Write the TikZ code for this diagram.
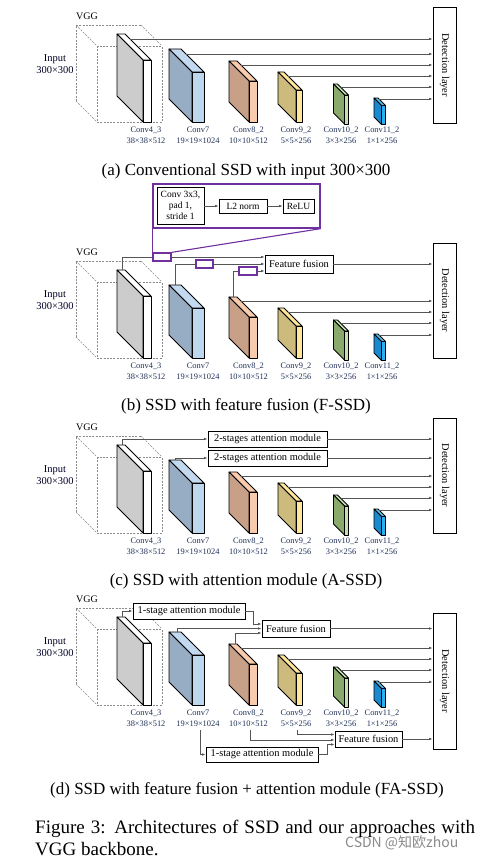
\documentclass[tikz,border=0pt]{standalone}
\usepackage{fontspec}
\setmainfont{Liberation Serif}
\newfontfamily\cjkfont{Noto Sans CJK SC}
\usetikzlibrary{arrows.meta}
\definecolor{lblblue}{HTML}{1F3058}
\definecolor{lgray}{HTML}{555555}
\definecolor{dgray}{HTML}{8A8A8A}
\definecolor{ppl}{HTML}{7030A0}
\definecolor{sideA}{HTML}{CCCCCC}
\definecolor{sideB}{HTML}{97ADC4}
\definecolor{frontB}{HTML}{BDD7EE}
\definecolor{topB}{HTML}{C3D9EF}
\definecolor{sideC}{HTML}{C8A088}
\definecolor{frontC}{HTML}{F8CBAD}
\definecolor{sideD}{HTML}{CCBB7C}
\definecolor{frontD}{HTML}{FFE699}
\definecolor{sideE}{HTML}{8AAA6C}
\definecolor{frontE}{HTML}{C5E0B4}
\definecolor{sideF}{HTML}{1A8AD0}
\definecolor{frontF}{HTML}{27B0F0}
\definecolor{topF}{HTML}{5CC4F2}
\tikzset{
  slabline/.style={draw=black, line width=0.8pt, line join=round},
  conn/.style={draw=lgray, line width=0.65pt},
  arr/.style={conn, -{Latex[length=3.6pt,width=2.6pt]}},
  dashcube/.style={draw=dgray, line width=0.6pt, dash pattern=on 2pt off 1.3pt},
  lbl/.style={inner sep=0pt, text=lblblue, font=\fontsize{8.4}{9}\selectfont},
  boxed/.style={draw=black, line width=0.8pt, fill=white, inner sep=0pt, font=\fontsize{10.4}{12}\selectfont},
  smallbox/.style={draw=black, line width=0.7pt, fill=white, inner sep=0pt, font=\fontsize{9.5}{11}\selectfont},
  pbox/.style={draw=ppl, line width=1.3pt, fill=white, inner sep=0pt},
  captext/.style={inner sep=0pt, anchor=base, font=\fontsize{17}{20}\selectfont},
}
% #1 x0, #2 y0, #3 depth, #4 width, #5 height, #6 side, #7 front, #8 top
\newcommand{\slab}[8]{%
  \filldraw[slabline, fill=#8] (#1,#2) -- ++(#4,0) -- ++(#3,#3) -- ++(-#4,0) -- cycle;
  \filldraw[slabline, fill=#6] (#1,#2) -- ++(#3,#3) -- ++(0,#5) -- ++(-#3,-#3) -- cycle;
  \filldraw[slabline, fill=#7] ({#1+#3},{#2+#3}) rectangle ++(#4,#5);
}
% #1 vertical offset, #2 panel letter
\newcommand{\backbone}[2]{%
  \begin{scope}[yshift=-#1pt]
    \node[inner sep=0pt, font=\fontsize{10}{12}\selectfont] (vgg#2) at (87,16.5) {VGG};
    \node[inner sep=0pt, text=black!85!blue, font=\fontsize{10.5}{12}\selectfont] (inp#2) at (55,59.5) {Input};
    \node[inner sep=0pt, text=black!85!blue, font=\fontsize{10.5}{12}\selectfont] (res#2) at (55,70.5) {300×300};
    \draw[dashcube] (76,101) -- (76,25) -- (141,25);
    \draw[dashcube] (97,46) rectangle (162,122);
    \draw[dashcube] (76,25) -- (97,46) (141,25) -- (162,46) (76,101) -- (97,122);
    \slab{117}{34}{26}{8}{62}{sideA}{white}{white}
    \slab{169}{49}{23}{12}{50}{sideB}{frontB}{topB}
    \slab{229}{61}{20}{8}{41}{sideC}{frontC}{frontC}
    \slab{278}{72}{18}{6}{32}{sideD}{frontD}{frontD}
    \slab{333.5}{84}{11}{4}{29}{sideE}{frontE}{frontE}
    \slab{374}{98}{7.5}{4}{19}{sideF}{frontF}{topF}
    \node[lbl, anchor=base] (n1#2) at (146,132.5) {Conv4\_3};
    \node[lbl, anchor=base] (s1#2) at (146,143.5) {38×38×512};
    \node[lbl, anchor=base] (n2#2) at (198,132.5) {Conv7};
    \node[lbl, anchor=base] (s2#2) at (198,143.5) {19×19×1024};
    \node[lbl, anchor=base] (n3#2) at (248.5,132.5) {Conv8\_2};
    \node[lbl, anchor=base] (s3#2) at (248.5,143.5) {10×10×512};
    \node[lbl, anchor=base] (n4#2) at (296,132.5) {Conv9\_2};
    \node[lbl, anchor=base] (s4#2) at (296,143.5) {5×5×256};
    \node[lbl, anchor=base] (n5#2) at (341,132.5) {Conv10\_2};
    \node[lbl, anchor=base] (s5#2) at (341,143.5) {3×3×256};
    \node[lbl, anchor=base] (n6#2) at (382,132.5) {Conv11\_2};
    \node[lbl, anchor=base] (s6#2) at (382,143.5) {1×1×256};
  \end{scope}
}
\begin{document}
\begin{tikzpicture}[x=1pt, y=-1pt]
\useasboundingbox (0,0) rectangle (484,859);
\fill[white] (0,0) rectangle (484,859);

% ---------------- panel (a)
\backbone{0}{a}
\node[boxed, minimum width=23pt, minimum height=116pt] (deta) at (444.5,65) {\rotatebox{-90}{Detection layer}};
\draw[arr] (130,39) -- (deta.west |- 0,39);
\draw[arr] (186,54) -- (deta.west |- 0,54);
\draw[arr] (241,65) -- (deta.west |- 0,65);
\draw[arr] (288,76) -- (deta.west |- 0,76);
\draw[arr] (340.5,87) -- (deta.west |- 0,87);
\draw[arr] (379,99) -- (deta.west |- 0,99);
\node[captext] (capa) at (246,175) {(a) Conventional SSD with input 300×300};

% ---------------- panel (b)
\backbone{236}{b}
\node[boxed, minimum width=23pt, minimum height=115pt] (detb) at (444.5,300.5) {\rotatebox{-90}{Detection layer}};
\node[boxed, minimum width=68pt, minimum height=18pt] (ffb) at (299,264) {Feature fusion};
\draw[arr] (122,270) |- (ffb.west |- 0,257);
\draw[arr] (175,285) |- (ffb.west |- 0,264);
\draw[arr] (233,297) |- (ffb.west |- 0,271);
\draw[arr] (ffb.east) -- (detb.west |- ffb.east);
\draw[arr] (241,301) -- (detb.west |- 0,301);
\draw[arr] (288,312) -- (detb.west |- 0,312);
\draw[arr] (340.5,323) -- (detb.west |- 0,323);
\draw[arr] (379,335) -- (detb.west |- 0,335);
\node[pbox, minimum width=167pt, minimum height=44pt] (zoomb) at (236.5,206) {};
\node[pbox, minimum width=18pt, minimum height=8pt] (pb1) at (162,257) {};
\node[pbox, minimum width=17pt, minimum height=8pt] (pb2) at (204.5,264) {};
\node[pbox, minimum width=18pt, minimum height=8pt] (pb3) at (248,271) {};
\draw[ppl, line width=1.1pt] (zoomb.south west) -- (pb1.north west);
\draw[ppl, line width=1.1pt] (zoomb.south east) -- (pb1.north east);
\node[smallbox, minimum width=47pt, minimum height=37pt, align=center] (cvb) at (180.5,205.5) {Conv 3x3,\\pad 1,\\stride 1};
\node[smallbox, minimum width=48pt, minimum height=14pt] (l2b) at (243,206) {L2 norm};
\node[smallbox, minimum width=31pt, minimum height=14pt] (relub) at (298.5,206) {ReLU};
\draw[arr] (cvb.east |- l2b.west) -- (l2b.west);
\draw[arr] (l2b.east) -- (relub.west);
\node[captext] (capb) at (246,410) {(b) SSD with feature fusion (F-SSD)};

% ---------------- panel (c)
\backbone{411}{c}
\node[boxed, minimum width=23pt, minimum height=115pt] (detc) at (444.5,475.5) {\rotatebox{-90}{Detection layer}};
\node[boxed, minimum width=119pt, minimum height=16pt] (att1c) at (267.5,439) {2-stages attention module};
\node[boxed, minimum width=119pt, minimum height=16pt] (att2c) at (267.5,458) {2-stages attention module};
\draw[arr] (122,445) |- (att1c.west);
\draw[arr] (175,460) |- (att2c.west);
\draw[arr] (att1c.east) -- (detc.west |- att1c.east);
\draw[arr] (att2c.east) -- (detc.west |- att2c.east);
\draw[arr] (241,476) -- (detc.west |- 0,476);
\draw[arr] (288,487) -- (detc.west |- 0,487);
\draw[arr] (340.5,498) -- (detc.west |- 0,498);
\draw[arr] (379,510) -- (detc.west |- 0,510);
\node[captext] (capc) at (246,585) {(c) SSD with attention module (A-SSD)};

% ---------------- panel (d)
\backbone{583}{d}
\node[boxed, minimum width=23pt, minimum height=136pt] (detd) at (444.5,681) {\rotatebox{-90}{Detection layer}};
\node[boxed, minimum width=112pt, minimum height=16pt] (att1d) at (189,611) {1-stage attention module};
\node[boxed, minimum width=68pt, minimum height=17pt] (ff1d) at (296,628.5) {Feature fusion};
\draw[arr] (122,617) |- (att1d.west);
\draw[arr] (att1d.east) -| (253,624) -- (ff1d.west |- 0,624);
\draw[arr] (177,632) |- (ff1d.west |- 0,628.5);
\draw[arr] (235,644) |- (ff1d.west |- 0,633);
\draw[arr] (ff1d.east) -- (detd.west |- ff1d.east);
\draw[arr] (241,648) -- (detd.west |- 0,648);
\draw[arr] (288,659) -- (detd.west |- 0,659);
\draw[arr] (340.5,670) -- (detd.west |- 0,670);
\draw[arr] (379,682) -- (detd.west |- 0,682);
\node[boxed, minimum width=67pt, minimum height=16pt] (ff2d) at (368.5,739) {Feature fusion};
\node[boxed, minimum width=112pt, minimum height=15pt] (att2d) at (262,754.5) {1-stage attention module};
\draw[arr] (297,730) |- (ff2d.west |- 0,734.5);
\draw[arr] (250,730) |- (ff2d.west |- 0,740);
\draw[arr] (200,730) |- (att2d.west);
\draw[arr] (att2d.east) -| (327,744.5) -- (ff2d.west |- 0,744.5);
\draw[arr] (ff2d.east) -- (detd.west |- ff2d.east);
\node[captext] (capd) at (247,794) {(d) SSD with feature fusion + attention module (FA-SSD)};

% ---------------- figure caption
\node[inner sep=0pt, anchor=base west, font=\fontsize{19}{22}\selectfont] (fig1) at (35,833) {\makebox[440pt][s]{Figure 3: Architectures of SSD and our approaches with}};
\node[inner sep=0pt, anchor=base west, font=\fontsize{19}{22}\selectfont] (fig2) at (35,855) {VGG backbone.};
\node[inner sep=0pt, anchor=west, text=dgray, font=\fontsize{14}{16}\selectfont\cjkfont] (wm) at (345,843) {CSDN @知欧zhou};
\end{tikzpicture}
\end{document}
